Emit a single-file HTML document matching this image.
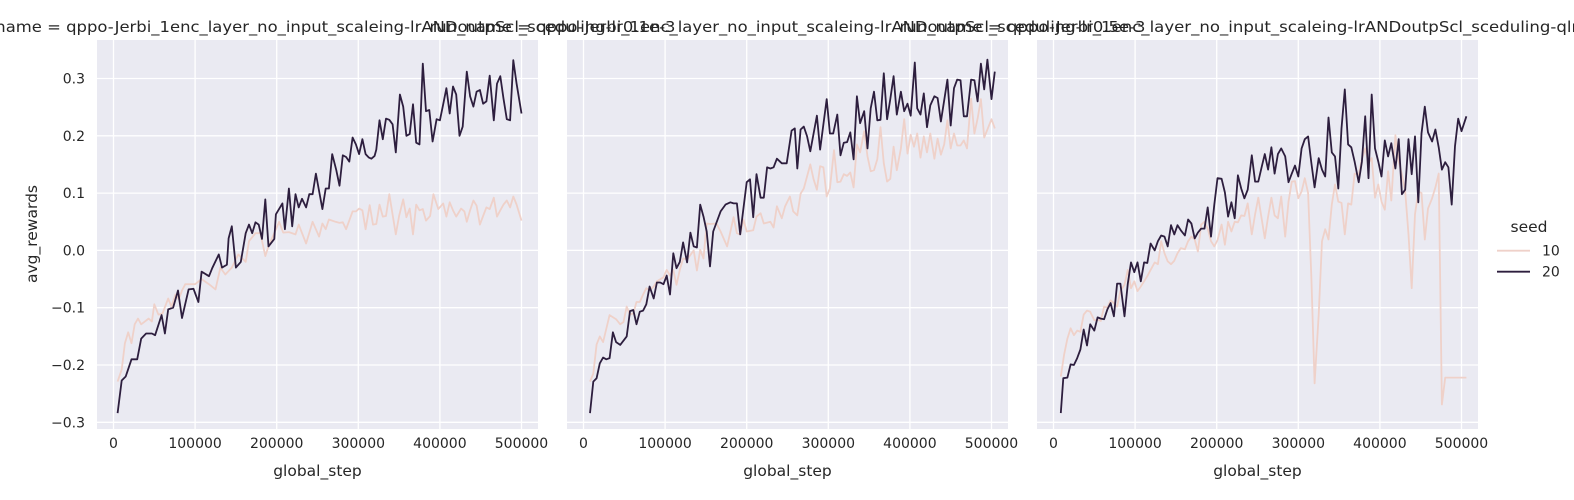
<!DOCTYPE html>
<html><head><meta charset="utf-8"><style>
html,body{margin:0;padding:0;background:#fff;}
svg{display:block;font-family:"DejaVu Sans","Liberation Sans",sans-serif;}
</style></head><body>
<svg id="chart" width="1574" height="500" viewBox="0 0 1574 500"></svg>
<script>
// ---- data (steps in thousands) ----
const xTicks = [0, 100000, 200000, 300000, 400000, 500000];
const yTicks = [-0.3, -0.2, -0.1, 0.0, 0.1, 0.2, 0.3];
const seeds = ["10", "20"];
const panelTitles = [
 "run_name = qppo-Jerbi_1enc_layer_no_input_scaleing-lrANDoutpScl_sceduling-lr0.1e-3",
 "run_name = qppo-Jerbi_1enc_layer_no_input_scaleing-lrANDoutpScl_sceduling-lr0.5e-3",
 "run_name = qppo-Jerbi_1enc_layer_no_input_scaleing-lrANDoutpScl_sceduling-qlr1e-3"
];
const p1StepsA = [5,10,14,18,22,26,30,34,43,47,50,55,60,67,71,76,80,84,88,94,100,108,117,125,131,137,145,153,162,166,174,180,186,190,203,208,215,223,227,236,244,252,256,260,264,272,277,281,285,293,297,301,305,309,314,318,322,326,330,334,338,346,350,355,359,363,367,371,375,379,383,388,392,398,404,408,412,416,420,426,430,433,437,441,445,449,453,457,461,466,470,474,478,482,486,490,494,500];
const p1ValsA = [-0.229,-0.208,-0.162,-0.143,-0.162,-0.129,-0.119,-0.129,-0.119,-0.124,-0.094,-0.112,-0.11,-0.084,-0.098,-0.077,-0.085,-0.07,-0.059,-0.059,-0.059,-0.05,-0.059,-0.068,-0.03,-0.042,-0.03,-0.007,-0.02,0.016,0.03,0.03,-0.01,0.007,0.05,0.031,0.032,0.028,0.045,0.012,0.05,0.024,0.047,0.037,0.054,0.05,0.048,0.049,0.037,0.068,0.068,0.073,0.07,0.037,0.079,0.045,0.046,0.08,0.059,0.06,0.098,0.028,0.06,0.089,0.058,0.073,0.028,0.08,0.07,0.072,0.052,0.06,0.098,0.072,0.082,0.059,0.084,0.07,0.059,0.073,0.068,0.05,0.07,0.087,0.078,0.045,0.06,0.075,0.072,0.092,0.059,0.07,0.08,0.087,0.075,0.094,0.08,0.052];
const p1StepsB = [5,10,15,22,29,34,40,47,51,59,63,67,73,79,84,92,98,104,108,117,121,129,133,139,141,145,150,156,162,166,170,174,178,182,186,190,197,199,207,210,215,219,223,227,231,236,240,244,248,256,260,264,268,273,277,281,285,289,293,297,301,305,309,313,316,320,322,326,330,334,338,342,346,351,355,359,363,367,371,375,379,383,387,391,396,400,404,408,412,416,420,424,428,433,437,441,445,449,453,457,461,466,470,474,478,482,486,490,494,500];
const p1ValsB = [-0.284,-0.227,-0.22,-0.19,-0.19,-0.154,-0.145,-0.145,-0.148,-0.113,-0.145,-0.103,-0.1,-0.07,-0.118,-0.068,-0.067,-0.09,-0.037,-0.045,-0.031,-0.007,-0.03,-0.025,0.021,0.042,-0.03,-0.02,0.03,0.045,0.03,0.049,0.045,0.02,0.089,0.007,0.02,0.063,0.082,0.037,0.108,0.042,0.098,0.075,0.09,0.075,0.098,0.098,0.134,0.072,0.108,0.108,0.168,0.14,0.113,0.166,0.163,0.155,0.197,0.185,0.168,0.194,0.168,0.162,0.16,0.165,0.176,0.227,0.194,0.23,0.228,0.22,0.171,0.272,0.251,0.2,0.203,0.255,0.188,0.185,0.326,0.243,0.245,0.19,0.229,0.227,0.255,0.283,0.239,0.286,0.272,0.2,0.216,0.312,0.269,0.251,0.277,0.28,0.256,0.26,0.305,0.227,0.291,0.304,0.265,0.229,0.227,0.332,0.291,0.239];
const p2StepsA = [8,12,16,20,24,32,40,45,49,53,57,61,65,69,73,77,81,86,90,98,102,106,110,114,118,122,127,131,135,139,143,147,151,155,163,168,176,184,188,192,196,200,208,212,217,221,229,233,237,243,247,253,257,262,266,270,278,282,286,290,294,298,302,307,311,315,319,323,327,331,335,339,344,348,352,356,360,364,368,372,376,380,384,389,393,397,401,405,409,413,417,421,425,430,434,438,442,446,450,454,458,462,466,470,475,479,483,487,491,495,500,504];
const p2ValsA = [-0.229,-0.215,-0.164,-0.15,-0.16,-0.113,-0.12,-0.129,-0.125,-0.098,-0.112,-0.11,-0.09,-0.09,-0.077,-0.066,-0.07,-0.063,-0.054,-0.047,-0.034,-0.044,-0.034,-0.06,-0.034,-0.014,-0.016,-0.008,0,-0.035,0.001,-0.014,0.047,0.046,0.047,0.033,0.007,0.058,0.03,0.028,0.054,0.033,0.035,0.059,0.065,0.047,0.05,0.04,0.077,0.056,0.077,0.094,0.068,0.061,0.099,0.108,0.15,0.124,0.106,0.147,0.145,0.094,0.108,0.175,0.119,0.12,0.133,0.13,0.136,0.11,0.185,0.171,0.208,0.164,0.138,0.14,0.159,0.215,0.152,0.12,0.125,0.181,0.14,0.178,0.229,0.169,0.202,0.181,0.204,0.162,0.199,0.171,0.204,0.16,0.195,0.167,0.185,0.227,0.178,0.204,0.183,0.183,0.192,0.178,0.265,0.204,0.23,0.264,0.197,0.211,0.229,0.213];
const p2StepsB = [8,12,16,20,24,28,32,36,40,45,53,57,61,65,69,73,77,81,86,90,94,98,102,106,110,114,118,122,127,131,135,139,143,147,151,155,159,168,174,180,184,188,192,200,204,208,212,217,221,225,229,233,237,243,249,255,259,262,266,270,274,278,286,290,298,302,306,311,315,319,323,327,331,335,339,344,348,352,356,360,364,368,372,376,380,384,389,393,397,401,406,409,413,417,421,425,430,434,438,442,446,450,454,458,462,466,470,475,479,483,487,491,495,500,504];
const p2ValsB = [-0.284,-0.229,-0.223,-0.197,-0.187,-0.19,-0.188,-0.143,-0.16,-0.165,-0.15,-0.106,-0.104,-0.129,-0.107,-0.105,-0.094,-0.063,-0.084,-0.056,-0.056,-0.059,-0.044,-0.077,-0.005,-0.031,-0.02,0.014,-0.021,0.031,0.007,0.005,0.08,0.059,0.033,-0.028,0.033,0.068,0.08,0.084,0.082,0.082,0.028,0.119,0.124,0.058,0.133,0.092,0.092,0.145,0.143,0.145,0.16,0.152,0.152,0.209,0.213,0.143,0.211,0.216,0.199,0.173,0.235,0.176,0.264,0.204,0.204,0.237,0.166,0.188,0.189,0.206,0.159,0.269,0.222,0.243,0.178,0.248,0.277,0.227,0.228,0.309,0.229,0.264,0.304,0.237,0.277,0.243,0.256,0.235,0.328,0.248,0.237,0.274,0.215,0.253,0.269,0.266,0.225,0.262,0.298,0.218,0.283,0.298,0.297,0.234,0.234,0.298,0.297,0.26,0.326,0.281,0.333,0.264,0.312];
const p3StepsA = [9,13,17,21,25,29,33,37,41,45,50,54,58,62,66,70,74,78,82,87,91,95,99,103,107,111,115,119,124,128,132,136,140,144,148,152,156,161,165,169,173,177,181,185,189,193,197,201,206,210,214,218,222,226,230,234,238,243,247,251,255,259,263,267,271,275,279,284,288,292,296,300,304,308,312,316,320,325,329,333,337,341,345,349,353,357,361,365,369,374,378,382,386,390,394,398,402,406,410,414,419,423,427,431,435,439,443,447,451,455,459,464,468,472,476,480,506];
const p3ValsA = [-0.22,-0.182,-0.154,-0.136,-0.148,-0.14,-0.142,-0.112,-0.105,-0.107,-0.122,-0.121,-0.123,-0.098,-0.1,-0.087,-0.092,-0.098,-0.071,-0.06,-0.034,-0.066,-0.054,-0.071,-0.063,-0.054,-0.045,-0.034,-0.021,-0.024,0.016,-0.005,-0.019,-0.024,-0.018,-0.005,0.004,0.002,0.016,0.024,0.019,-0.002,0.045,0.05,0.038,0.016,0.007,0.018,0.045,0.01,0.05,0.033,0.05,0.049,0.061,0.06,0.082,0.028,0.063,0.092,0.056,0.021,0.059,0.092,0.061,0.056,0.094,0.024,0.085,0.12,0.121,0.091,0.103,0.126,0.1,-0.049,-0.232,-0.112,0.016,0.037,0.019,0.08,0.115,0.085,0.083,0.028,0.082,0.08,0.134,0.132,0.159,0.178,0.152,0.161,0.092,0.115,0.085,0.071,0.138,0.087,0.201,0.155,0.133,0.103,0.028,-0.066,0.063,0.103,0.1,0.019,0.073,0.091,0.11,0.134,-0.269,-0.222,-0.222];
const p3StepsB = [9,12,17,21,25,29,33,37,41,45,50,54,58,62,66,70,74,78,82,87,91,95,99,103,107,111,115,119,124,128,132,136,140,144,148,152,156,161,165,169,173,177,181,185,189,193,197,201,206,210,214,218,222,226,230,234,238,243,247,251,255,259,263,267,271,275,279,284,288,292,296,300,304,308,312,316,320,325,329,333,337,341,345,349,353,357,361,365,369,374,378,382,386,390,394,398,402,406,410,414,419,423,427,431,435,439,443,447,451,455,459,464,468,472,476,480,484,488,492,496,500,506];
const p3ValsB = [-0.284,-0.223,-0.222,-0.199,-0.2,-0.188,-0.173,-0.138,-0.166,-0.129,-0.14,-0.117,-0.119,-0.12,-0.103,-0.092,-0.115,-0.058,-0.058,-0.115,-0.058,-0.021,-0.038,-0.021,-0.054,-0.021,-0.022,0.012,0,0.016,0.026,0.024,0.007,0.044,0.028,0.044,0.035,0.026,0.054,0.047,0.021,0.031,0.038,0.038,0.075,0.024,0.08,0.126,0.125,0.101,0.059,0.084,0.056,0.131,0.108,0.091,0.106,0.166,0.12,0.12,0.145,0.168,0.141,0.18,0.134,0.168,0.178,0.164,0.119,0.134,0.148,0.129,0.178,0.194,0.199,0.152,0.11,0.161,0.141,0.129,0.232,0.171,0.164,0.108,0.213,0.281,0.185,0.18,0.155,0.119,0.155,0.234,0.126,0.272,0.178,0.155,0.129,0.192,0.164,0.187,0.143,0.194,0.098,0.106,0.194,0.133,0.199,0.084,0.204,0.251,0.206,0.19,0.211,0.18,0.141,0.154,0.145,0.08,0.182,0.23,0.208,0.234];

const panels = [
 {x0:97, x1:538, z:113.5, stepsA:p1StepsA, valsA:p1ValsA, stepsB:p1StepsB, valsB:p1ValsB},
 {x0:567, x1:1008, z:583.5, stepsA:p2StepsA, valsA:p2ValsA, stepsB:p2StepsB, valsB:p2ValsB},
 {x0:1037, x1:1478, z:1053.5, stepsA:p3StepsA, valsA:p3ValsA, stepsB:p3StepsB, valsB:p3ValsB}
];
const colA = "#efd1c9", colB = "#2d1e3e";
const NS = "http://www.w3.org/2000/svg";
const svg = document.getElementById("chart");
const yTop = 40, yBot = 429;
function yScale(v){ return 250.4 - v * 573; }
function mk(tag, attrs, parent){
  const e = document.createElementNS(NS, tag);
  for (const k in attrs) e.setAttribute(k, attrs[k]);
  (parent || svg).appendChild(e);
  return e;
}
function fmtY(v){ const s = Math.abs(v).toFixed(1); return v < -1e-9 ? "\u2212" + s : s; }

panels.forEach((p, i) => {
  const xScale = s => p.z + s / 500000 * 408;
  const g = mk("g", {});
  
  
  const bg = mk("rect", {x:p.x0, y:yTop, width:p.x1 - p.x0, height:yBot - yTop, fill:"#eaeaf2"}, g);
  
  
  yTicks.forEach(v => {
    const y = yScale(v);
    const l = mk("line", {x1:p.x0, x2:p.x1, y1:y, y2:y, stroke:"#fff", "stroke-width":1.3}, g);
    
    
    if (i === 0) {
      const t = mk("text", {x:p.x0 - 12, y:y + 5, "text-anchor":"end", "font-size":"14", fill:"#262626"}, g);
      t.textContent = fmtY(v);
      
      
    }
  });
  xTicks.forEach(s => {
    const x = xScale(s);
    const l = mk("line", {x1:x, x2:x, y1:yTop, y2:yBot, stroke:"#fff", "stroke-width":1.3}, g);
    
    
    const t = mk("text", {x:x, y:448, "text-anchor":"middle", "font-size":"14", fill:"#262626"}, g);
    t.textContent = String(s);
    
    
  });
  const series = [[p.stepsA, p.valsA, colA, 'seed-10-line'], [p.stepsB, p.valsB, colB, 'seed-20-line']];
  series.forEach(sr => {
    const pts = sr[0].map((s, k) => xScale(s * 1000).toFixed(1) + "," + yScale(sr[1][k]).toFixed(1)).join(" ");
    const pl = mk("polyline", {points:pts, fill:"none", stroke:sr[2], "stroke-width":1.8, "stroke-linejoin":"round"}, g);
    
    
  });
  const xl = mk("text", {x:(p.x0 + p.x1) / 2, y:476, "text-anchor":"middle", "font-size":"15.5", fill:"#262626"}, g);
  xl.textContent = "global_step";
  
  
  const tt = mk("text", {x:(p.x0 + p.x1) / 2, y:32, "text-anchor":"middle", "font-size":"15.5", fill:"#262626", textLength:"716", lengthAdjust:"spacingAndGlyphs"});
  tt.textContent = panelTitles[i];
  
  
});

const yl = mk("text", {x:0, y:0, "text-anchor":"middle", "font-size":"15.5", fill:"#262626", transform:"translate(37,234) rotate(-90)"});
yl.textContent = "avg_rewards";



const lg = mk("g", {});


const lt = mk("text", {x:1529, y:232, "text-anchor":"middle", "font-size":"15.5", fill:"#262626"}, lg);
lt.textContent = "seed";


seeds.forEach((s, k) => {
  const y = 250.7 + k * 21;
  const ln = mk("line", {x1:1497, x2:1530, y1:y, y2:y, stroke:k === 0 ? colA : colB, "stroke-width":1.8}, lg);
  
  
  const tx = mk("text", {x:1542, y:y + 5, "font-size":"14", fill:"#262626"}, lg);
  tx.textContent = s;
  
  
});
</script>
</body></html>
